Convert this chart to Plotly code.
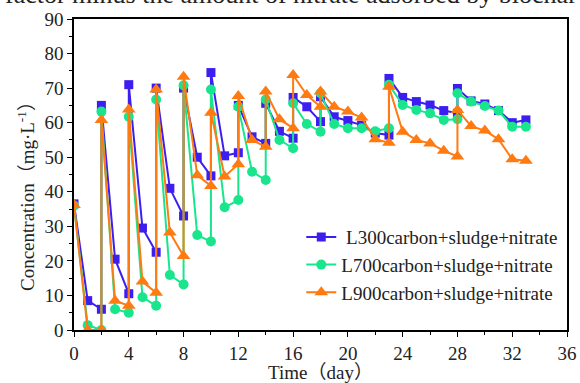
import plotly.graph_objects as go

days = [0, 1, 2, 2, 3, 4, 4, 5, 6, 6, 7, 8, 8, 9, 10, 10, 11, 12, 12, 13, 14, 14, 15, 16, 16,
        17, 18, 18, 19, 20, 21, 22, 23, 23, 24, 25, 26, 27, 28, 28, 29, 30, 31, 32, 33]

l300 = [36.5, 8.5, 6, 65, 20.5, 10.5, 71, 29.5, 22.5, 70, 41, 33, 70, 50, 44.6, 74.5, 50.4,
        51.3, 65, 55.9, 54, 65.6, 57.5, 55.5, 67.3, 64.6, 60.3, 67.5, 61.7, 60.6, 59.3, 57,
        56.4, 72.8, 67.3, 66.1, 65.1, 63.5, 62.7, 69.9, 66.3, 65.4, 63.5, 60, 60.8]

l700 = [36, 1.4, 0, 63.2, 6, 5, 61.7, 9.5, 7, 66.7, 15.9, 13.2, 70.8, 27.5, 25.6, 69.6, 35.5,
        37.6, 64.6, 45.8, 43.4, 66.7, 55, 52.6, 65.6, 59.6, 57.4, 68.5, 59.6, 58.4, 58.4, 57.5,
        58.4, 71, 65.1, 63.7, 62.7, 60.8, 61, 68.5, 66.1, 64.8, 63.5, 58.8, 58.8]

l900 = [36.2, 0, 0, 60.8, 8.5, 7, 63.8, 14, 10.8, 69.6, 28.2, 21.4, 73.3, 44.8, 41.7, 62.9, 44.4,
        48, 67.7, 55, 53, 69, 61, 58.4, 73.8, 68, 64.6, 69, 64.6, 63.2, 61.5, 55.2, 54.2, 70.4,
        57.4, 55, 54, 51.9, 50.2, 63.7, 59, 57.7, 55.2, 49.4, 49]

names = ["\u00a0L300carbon+sludge+nitrate", "L700carbon+sludge+nitrate", "L900carbon+sludge+nitrate"]
colors = ["#3C1EF0", "#19E68C", "#FF7A10"]
symbols = ["square", "circle", "triangle-up"]
sizes = [9, 10, 12]

FONT = "Liberation Serif, Times New Roman, Noto Sans CJK SC, serif"

fig = go.Figure()
for ys, nm, c, s, sz in zip([l300, l700, l900], names, colors, symbols, sizes):
    fig.add_trace(go.Scatter(x=days, y=ys, name=nm, mode="lines+markers",
                             line=dict(color=c, width=2),
                             marker=dict(symbol=s, size=sz, color=c)))

axis_common = dict(showline=True, linecolor="black", linewidth=1.5, mirror=True,
                   ticks="outside", ticklen=5, tickwidth=1, tickcolor="black",
                   showgrid=False, zeroline=False, automargin=False,
                   tickfont=dict(family=FONT, size=19, color="#222"))

fig.update_xaxes(range=[0, 36], tickvals=list(range(0, 37, 4)),
                 minor=dict(ticks="outside", ticklen=3, tickcolor="black", dtick=2, tick0=0),
                 title=dict(text="Time（day）", font=dict(family=FONT, size=19, color="#222"), standoff=6),
                 **axis_common)
fig.update_yaxes(range=[0, 90], tickvals=list(range(0, 91, 10)),
                 minor=dict(ticks="outside", ticklen=3, tickcolor="black", dtick=5, tick0=0),
                 **axis_common)

# y-axis title (placed as annotation to match its lower-than-centre position)
fig.add_annotation(text="Concentration（mg·L<sup>-1</sup>）",
                   xref="paper", yref="paper", x=(26 - 74) / 493, y=(330 - 192) / 311,
                   xanchor="center", yanchor="middle", textangle=-90, showarrow=False,
                   font=dict(family=FONT, size=19, color="#222"))

fig.add_annotation(text="factor minus the amount of nitrate adsorbed by biochar",
                   xref="paper", yref="paper", x=-0.145, y=1.078,
                   xanchor="left", yanchor="middle", showarrow=False,
                   font=dict(family=FONT, size=26, color="#222"))

fig.update_layout(width=580, height=383, margin=dict(l=74, r=13, t=19, b=53),
                  paper_bgcolor="white", plot_bgcolor="white",
                  legend=dict(x=0.461, y=0.36, xanchor="left", yanchor="top",
                              bgcolor="rgba(0,0,0,0)", tracegroupgap=0,
                              font=dict(family=FONT, size=19, color="#222")),
                  font=dict(family=FONT))

fig.write_html("out.html")
